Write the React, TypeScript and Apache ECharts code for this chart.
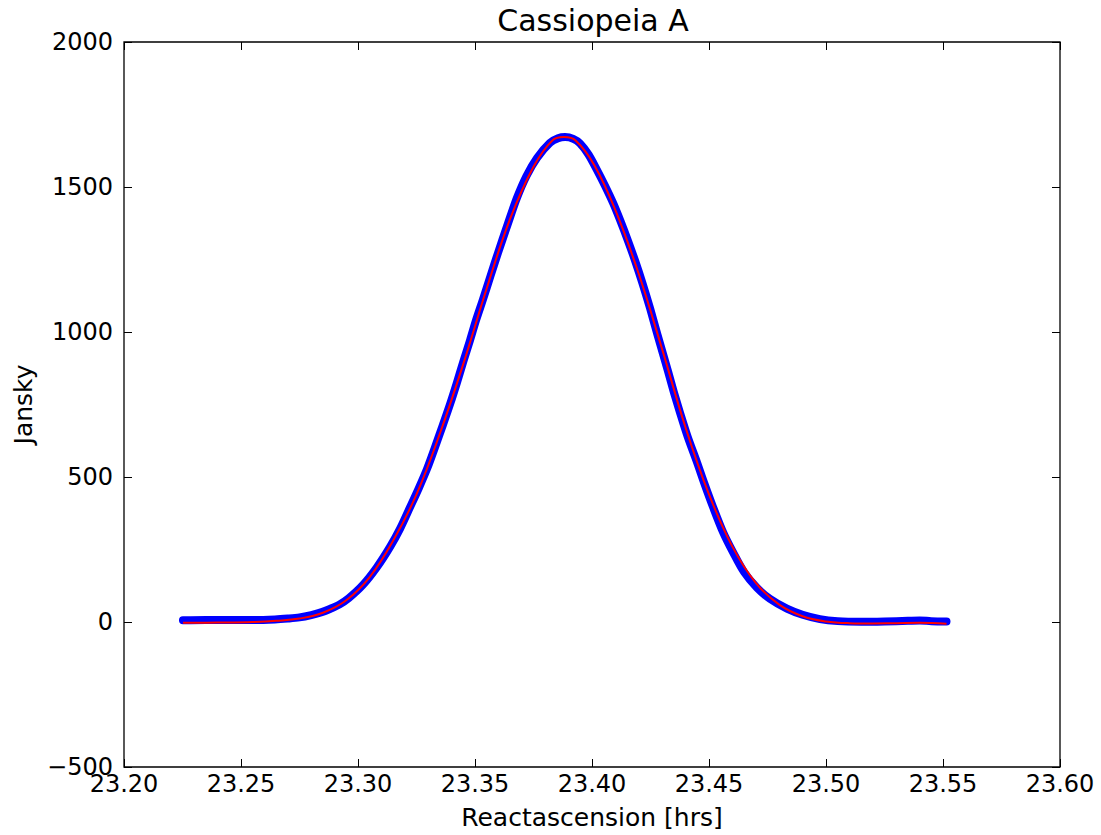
import React, { useEffect, useRef } from "react";
import * as echarts from "echarts";

const title = "Cassiopeia A";
const xLabel = "Reactascension [hrs]";
const yLabel = "Jansky";

const dataX = [
  23.2252, 23.235, 23.245, 23.255, 23.2645, 23.27, 23.275, 23.28, 23.2845, 23.288,
  23.292, 23.296, 23.3021, 23.308, 23.3137, 23.318, 23.3222, 23.326, 23.3295, 23.333,
  23.3363, 23.3395, 23.3423, 23.345, 23.3479, 23.3505, 23.3534, 23.3565, 23.3598, 23.364,
  23.3679, 23.372, 23.3765, 23.382, 23.3855, 23.3885, 23.392, 23.3949, 23.3985, 23.4021,
  23.4055, 23.409, 23.412, 23.4155, 23.4184, 23.4215, 23.4248, 23.428, 23.4325, 23.435,
  23.4376, 23.441, 23.4449, 23.448, 23.4517, 23.456, 23.4603, 23.465, 23.4705, 23.476,
  23.4833, 23.49, 23.4974, 23.505, 23.515, 23.525, 23.535, 23.54, 23.545, 23.5515,
];
const dataY = [
  6, 7, 7, 7, 9, 12, 16, 24, 34, 45,
  60, 82, 128, 188, 259, 322, 395, 462, 528, 605,
  680, 755, 826, 898, 972, 1042, 1112, 1190, 1272, 1372,
  1462, 1538, 1600, 1652, 1668, 1672, 1666, 1650, 1612, 1559,
  1505, 1445, 1386, 1312, 1246, 1170, 1082, 990, 864, 792,
  722, 636, 550, 478, 397, 310, 240, 172, 118, 80,
  46, 25, 10, 3, 1, 2, 4, 5, 3, 2,
];

// Fitted curve (red line)
const fitX = [
  23.2252, 23.24, 23.255, 23.265, 23.275, 23.285, 23.295, 23.305, 23.315, 23.325,
  23.335, 23.345, 23.355, 23.365, 23.375, 23.383, 23.388, 23.393, 23.401, 23.41,
  23.42, 23.43, 23.44, 23.45, 23.46, 23.47, 23.48, 23.49, 23.5, 23.51,
  23.52, 23.53, 23.54, 23.5515,
];
const fitY = [
  -3, -2, 0, 4, 12, 32, 75, 155, 280, 440,
  650, 890, 1150, 1390, 1570, 1660, 1672, 1660, 1575, 1420,
  1200, 940, 670, 440, 260, 135, 60, 20, 2, -4,
  -5, -4, -3, -6,
];

const xMin = 23.2;
const xMax = 23.6;
const xStep = 0.05;
const yMin = -500;
const yMax = 2000;
const yStep = 500;

const FONT = "DejaVu Sans";

export default function App() {
  const ref = useRef<HTMLDivElement>(null);

  useEffect(() => {
    document.body.style.margin = "0";
    if (!ref.current) return;
    const chart = echarts.init(ref.current, null, { renderer: "svg" });

    const tickCommon = {
      show: true,
      inside: true,
      length: 8,
      lineStyle: { color: "#000", width: 1 },
    };
    const labelStyle = { color: "#000", fontSize: 24, fontFamily: FONT };

    const left = 124;
    const top = 42;
    const right = 1101 - 1060;
    const bottom = 835 - 767;

    chart.setOption({
      animation: false,
      backgroundColor: "#fff",
      grid: {
        left,
        top,
        right,
        bottom,
        show: true,
        borderColor: "#000",
        borderWidth: 1.3,
        backgroundColor: "transparent",
      },
      graphic: [
        {
          type: "text",
          x: (left + 1060) / 2 + 1,
          y: 20,
          style: {
            text: title,
            font: `30px "${FONT}"`,
            fill: "#000",
            textAlign: "center",
            textVerticalAlign: "middle",
          },
        },
      ],
      xAxis: [
        {
          type: "value",
          min: xMin,
          max: xMax,
          interval: xStep,
          position: "bottom",
          axisLine: { show: false, onZero: false },
          axisTick: tickCommon,
          splitLine: { show: false },
          axisLabel: {
            ...labelStyle,
            margin: 5,
            formatter: (v: number) => v.toFixed(2),
          },
          name: xLabel,
          nameLocation: "middle",
          nameGap: 38,
          nameTextStyle: { color: "#000", fontSize: 25, fontFamily: FONT },
        },
        {
          type: "value",
          min: xMin,
          max: xMax,
          interval: xStep,
          position: "top",
          axisLine: { show: false, onZero: false },
          axisTick: tickCommon,
          splitLine: { show: false },
          axisLabel: { show: false },
        },
      ],
      yAxis: [
        {
          type: "value",
          min: yMin,
          max: yMax,
          interval: yStep,
          position: "left",
          axisLine: { show: false, onZero: false },
          axisTick: tickCommon,
          splitLine: { show: false },
          axisLabel: {
            ...labelStyle,
            margin: 11,
            formatter: (v: number) => (v < 0 ? "\u2212" + Math.abs(v) : String(v)),
          },
          name: yLabel,
          nameLocation: "middle",
          nameGap: 84,
          nameTextStyle: { color: "#000", fontSize: 25, fontFamily: FONT },
        },
        {
          type: "value",
          min: yMin,
          max: yMax,
          interval: yStep,
          position: "right",
          axisLine: { show: false, onZero: false },
          axisTick: tickCommon,
          splitLine: { show: false },
          axisLabel: { show: false },
        },
      ],
      series: [
        {
          type: "line",
          name: "data",
          xAxisIndex: 0,
          yAxisIndex: 0,
          data: dataX.map((x, i) => [x, dataY[i]]),
          showSymbol: false,
          smooth: 0.3,
          lineStyle: { color: "#0000ff", width: 8, cap: "round", join: "round" },
          z: 2,
        },
        {
          type: "line",
          name: "fit",
          xAxisIndex: 0,
          yAxisIndex: 0,
          data: fitX.map((x, i) => [x, fitY[i]]),
          showSymbol: false,
          smooth: 0.4,
          lineStyle: { color: "#ff0000", width: 2 },
          z: 3,
        },
      ],
    });

    return () => chart.dispose();
  }, []);

  return <div ref={ref} style={{ width: 1101, height: 835 }} />;
}
